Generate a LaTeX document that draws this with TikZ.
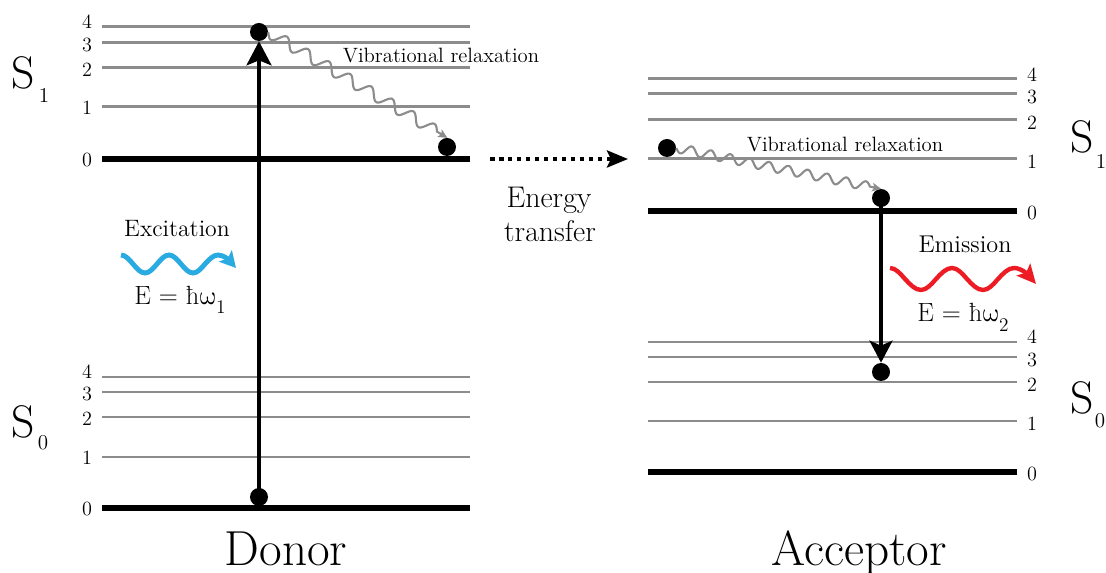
\documentclass[tikz,border=0pt]{standalone}
\usepackage{unicode-math}
\usetikzlibrary{arrows.meta}
\definecolor{lvgray}{HTML}{8C8C8C}
\definecolor{wblue}{HTML}{29ABE2}
\definecolor{wred}{HTML}{ED1C24}
\newcommand\fsz[1]{\fontsize{#1}{#1}\selectfont}
\begin{document}
\begin{tikzpicture}[x=0.02cm,y=-0.02cm,
  lvl/.style={draw=lvgray, line width=1.7pt},
  lvlzero/.style={draw=black, line width=3.3pt},
  num/.style={font=\fsz{11.5}, inner sep=0pt},
  bigS/.style={font=\fsz{26}, inner sep=0pt},
  subS/.style={font=\fsz{12}, inner sep=0pt},
  dot/.style={circle, fill=black, inner sep=0pt, minimum size=0.36cm},
  trans/.style={draw=black, line width=2pt, -{Stealth[length=4.8mm,width=5mm,inset=1mm]}},
  relax/.style={draw=lvgray, line width=1.2pt, -{Stealth[length=1.8mm,width=1.7mm,inset=0.4mm]}},
  lbl/.style={inner sep=0pt, anchor=base},
  ttl/.style={font=\fsz{28}, inner sep=0pt, anchor=base},
]
\useasboundingbox (0,0) rectangle (1106,573);

% ---------- Donor levels ----------
\foreach \y/\n/\ly in {27/4/22, 43/3/45, 68/2/70, 107/1/108}{
  \draw[lvl] (102,\y) -- (470,\y);
  \node[num] (dsa\n) at (87,\ly) {\n};
}
\draw[lvlzero] (102,159) -- (470,159);
\node[num] (dsa0) at (87,160) {0};
\foreach \y/\n/\ly in {377/4/372, 392/3/394, 417/2/419, 457/1/458}{
  \draw[lvl] (102,\y) -- (470,\y);
  \node[num] (dsb\n) at (87,\ly) {\n};
}
\draw[lvlzero] (102,508) -- (470,508);
\node[num] (dsb0) at (87,509) {0};

\node[bigS] (dS1) at (23,73) {S};
\node[subS] (dS1s) at (44,95) {1};
\node[bigS] (dS0) at (23,422) {S};
\node[subS] (dS0s) at (43,443) {0};

% ---------- Acceptor levels ----------
\foreach \y/\n/\ly in {79/4/75, 94/3/97, 120/2/123, 159/1/162}{
  \draw[lvl] (648,\y) -- (1017,\y);
  \node[num] (asa\n) at (1032,\ly) {\n};
}
\draw[lvlzero] (648,211) -- (1017,211);
\node[num] (asa0) at (1032,213) {0};
\foreach \y/\n/\ly in {342/4/337, 357/3/360, 382/2/385, 421/1/424}{
  \draw[lvl] (648,\y) -- (1017,\y);
  \node[num] (asb\n) at (1032,\ly) {\n};
}
\draw[lvlzero] (648,472) -- (1017,472);
\node[num] (asb0) at (1032,474) {0};

\node[bigS] (aS1) at (1082,137) {S};
\node[subS] (aS1s) at (1101,161) {1};
\node[bigS] (aS0) at (1082,398) {S};
\node[subS] (aS0s) at (1100,421) {0};

% ---------- Dots ----------
\node[dot] (dTop) at (259,32) {};
\node[dot] (dBot) at (259,497) {};
\node[dot] (dRel) at (447,147) {};
\node[dot] (aTop) at (667,148) {};
\node[dot] (aRel) at (881,198) {};
\node[dot] (aBot) at (881,372) {};

% ---------- Transitions ----------
\draw[trans] (dBot.center) -- (dTop.south);
\draw[trans, -{Stealth[length=4.4mm,width=4.6mm,inset=1mm]}] (aRel.center) -- (aBot.north);

% vibrational relaxation waves (sine along the line from dot to dot)
\begin{scope}[shift={(dTop.east)}, rotate=-30.6]
  \draw[relax] plot[domain=0:3.92, samples=161, smooth]
    ({\x*1cm}, {-0.11cm*sin(\x/0.49*360)}) -- (4.16cm,0cm);
\end{scope}
\begin{scope}[shift={(aTop.east)}, rotate=-11.3]
  \draw[relax] plot[domain=0:3.95, samples=201, smooth]
    ({\x*1cm}, {-0.09cm*sin(\x/0.395*360)}) -- (4.18cm,0cm);
\end{scope}

\node[lbl, font=\fsz{11.8}] (vr1) at (441,63) {Vibrational relaxation};
\node[lbl, font=\fsz{11.8}] (vr2) at (845,152) {Vibrational relaxation};

% ---------- Energy transfer ----------
\coordinate (et1) at (490,159);
\coordinate (et2) at (628,159);
\draw[line width=0.08cm, dash pattern=on 0.09cm off 0.09cm,
  -{Stealth[length=4.2mm,width=3.4mm,inset=0.8mm]}] (et1) -- (et2);
\node[lbl, font=\fsz{17}] (en1) at (549,208) {Energy};
\node[lbl, font=\fsz{17}] (en2) at (550,242) {transfer};

% ---------- Excitation ----------
\node[lbl, font=\fsz{13.5}] (exc) at (177,237) {Excitation};
\draw[wblue, line width=2.8pt, -{Stealth[length=3.2mm,width=3.4mm,inset=0.7mm]}]
  (121,255) cos (133,264) sin (145,273) cos (157,264) sin (169,255)
  cos (181,264) sin (193,273) cos (205,264) sin (218,255) cos (236,268);
\node[inner sep=0pt, anchor=base west, font=\fsz{15}] (eq1) at (134,305)
  {E = ħ$\symup{\omega}$\raisebox{-5pt}{\fsz{11}1}};

% ---------- Emission ----------
\node[lbl, font=\fsz{13.8}] (emi) at (965,253) {Emission};
\draw[wred, line width=2.5pt, -{Stealth[length=3.8mm,width=3.6mm,inset=0.8mm]}]
  (890,268) cos (905,279) sin (921,290) cos (936,279) sin (952,268)
  cos (967,279) sin (983,290) cos (998,279) sin (1014,268) cos (1036,284);
\node[inner sep=0pt, anchor=base west, font=\fsz{15}] (eq2) at (917,322)
  {E = ħ$\symup{\omega}$\raisebox{-5.5pt}{\fsz{11}2}};

% ---------- Titles ----------
\node[ttl] (donor) at (286,566) {Donor};
\node[ttl] (acceptor) at (859,566) {Acceptor};
\end{tikzpicture}
\end{document}
